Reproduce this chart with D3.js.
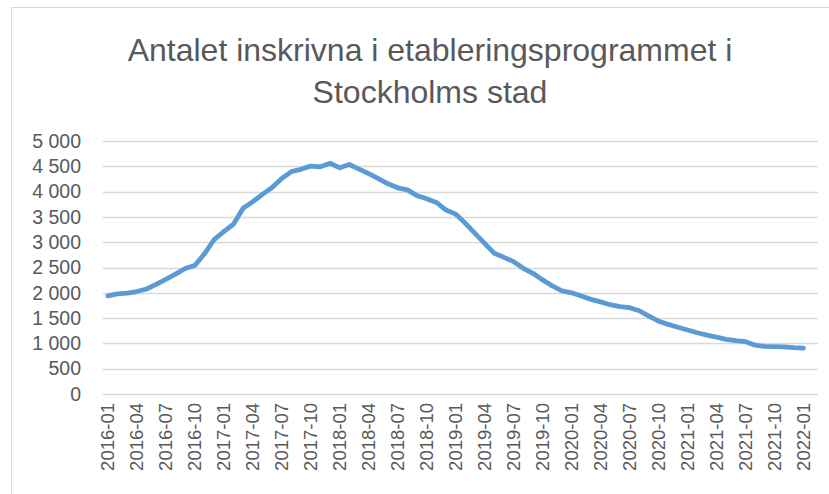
<!DOCTYPE html>
<html>
<head>
<meta charset="utf-8">
<script src="https://cdn.jsdelivr.net/npm/d3@7"></script>
<style>
body { margin: 0; background: #fff; }
svg { display: block; }
</style>
</head>
<body>
<div id="chart"></div>
<script>
'use strict'

// months 2016-01 .. 2022-02 (last category has no value)
var months = []
for (var yr = 2016; yr <= 2022; yr++) {
	for (var m = 1; m <= 12; m++) {
		if (yr == 2022 && m > 2) break
		months.push(yr + "-" + (m < 10 ? "0" + m : m))
	}
}

var inskrivna = [
	1940, 1980, 1995, 2025, 2075, 2165, 2265, 2370, 2480, 2540, 2770, 3050,
	3210, 3355, 3670, 3800, 3945, 4080, 4260, 4395, 4440, 4505, 4490, 4560,
	4470, 4535, 4445, 4355, 4255, 4155, 4075, 4035, 3920, 3860, 3785, 3635,
	3555, 3375, 3175, 2975, 2780, 2700, 2615, 2485, 2385, 2255, 2135, 2040,
	2000, 1935, 1870, 1820, 1765, 1725, 1705, 1645, 1540, 1440, 1375, 1320,
	1265, 1210, 1165, 1125, 1080, 1055, 1035, 965, 940, 935, 930, 915,
	905, null
]

var yTicks = [0, 500, 1000, 1500, 2000, 2500, 3000, 3500, 4000, 4500, 5000]
var titleLines = ["Antalet inskrivna i etableringsprogrammet i", "Stockholms stad"]

var W = 829, H = 494
var plot = {left: 103, right: 818, top: 141, bottom: 394}
var textColor = "#595959"

var svg = d3.select("#chart").append("svg")
	.attr("width", W)
	.attr("height", H)

// chart border
svg.append("rect")
	.attr("x", 11.5).attr("y", 7.5)
	.attr("width", 830).attr("height", 500)
	.attr("fill", "none")
	.attr("stroke", "#d9d9d9")
	.attr("stroke-width", 1)

svg.selectAll(".title")
	.data(titleLines)
	.enter().append("text")
	.attr("class", "title")
	.attr("x", 430)
	.attr("y", function(d, i){ return 61 + i * 42 })
	.attr("text-anchor", "middle")
	.attr("font-family", "Liberation Sans, Arial, sans-serif")
	.attr("font-size", 32)
	.attr("fill", textColor)
	.text(function(d){ return d })

var x = d3.scaleBand()
	.domain(months)
	.range([plot.left, plot.right])

var y = d3.scaleLinear()
	.domain([0, 5000])
	.range([plot.bottom, plot.top])

var loc = d3.formatLocale({decimal: ",", thousands: "\u00a0", grouping: [3], currency: ["", " kr"]})
var fmt = loc.format(",d")

// gridlines
svg.append("g")
	.selectAll("line")
	.data(yTicks)
	.enter().append("line")
	.attr("x1", plot.left)
	.attr("x2", plot.right)
	.attr("y1", function(d){ return Math.round(y(d)) + 0.5 })
	.attr("y2", function(d){ return Math.round(y(d)) + 0.5 })
	.attr("stroke", "#d9d9d9")
	.attr("stroke-width", 1.3)

// y axis labels
var yAxis = svg.append("g")
	.attr("transform", "translate(" + (plot.left - 22) + ",0)")
	.call(d3.axisLeft(y).tickValues(yTicks).tickFormat(fmt).tickSize(0))
yAxis.select(".domain").remove()
yAxis.selectAll("text")
	.attr("font-family", "Liberation Sans, Arial, sans-serif")
	.attr("font-size", 19.5)
	.attr("fill", textColor)
	.attr("x", 0)
	.attr("text-anchor", "end")

// x axis labels, every third month
var xAxis = svg.append("g")
	.attr("transform", "translate(0," + plot.bottom + ")")
	.call(d3.axisBottom(x)
		.tickValues(months.filter(function(d, i){ return i % 3 == 0 && i <= 72 }))
		.tickSize(0))
xAxis.select(".domain").remove()
xAxis.selectAll("text")
	.attr("font-family", "Liberation Sans, Arial, sans-serif")
	.attr("font-size", 18.5)
	.attr("fill", textColor)
	.attr("text-anchor", "end")
	.attr("dy", "0.35em")
	.attr("transform", "translate(0,9) rotate(-90)")
	.attr("x", 0)
	.attr("y", 0)

var line = d3.line()
	.defined(function(d){ return d != null })
	.x(function(d, i){ return x(months[i]) + x.bandwidth() / 2 })
	.y(function(d){ return y(d) })

svg.append("path")
	.datum(inskrivna)
	.attr("d", line)
	.attr("fill", "none")
	.attr("stroke", "#5b9bd5")
	.attr("stroke-width", 4.8)
	.attr("stroke-linejoin", "round")
	.attr("stroke-linecap", "round")
</script>
</body>
</html>
